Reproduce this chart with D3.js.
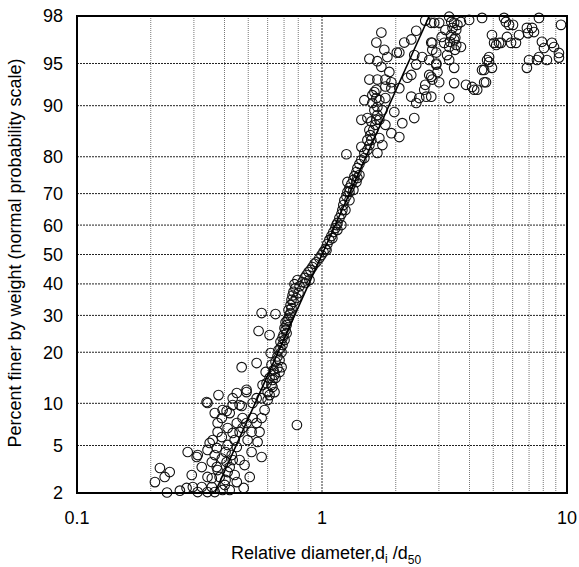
<!DOCTYPE html>
<html><head><meta charset="utf-8">
<script src="https://cdn.jsdelivr.net/npm/d3@7"></script>
<style>body{margin:0;background:#fff;} svg{display:block;font-family:"Liberation Sans",Arial,sans-serif;}</style>
</head><body>
<svg id="chart" width="579" height="567"></svg>
<script>
const diameters = [0.283,0.308,0.218,0.239,0.208,0.228,0.294,0.233,0.263,0.28,0.297,0.341,0.449,0.492,0.541,0.365,0.393,0.432,0.461,0.42,0.375,0.449,0.492,0.541,0.556,0.375,0.432,0.546,0.461,0.348,0.311,0.341,0.372,0.412,0.449,0.567,0.323,0.355,0.372,0.42,0.432,0.341,0.382,0.449,0.323,0.355,0.401,0.365,0.393,0.47,0.408,0.338,0.358,0.39,0.404,0.39,0.408,0.365,0.428,0.461,0.412,0.375,0.44,0.404,0.355,0.42,0.479,0.341,0.311,0.507,0.483,0.516,0.497,0.44,0.474,0.516,0.521,0.567,0.583,0.474,0.412,0.39,0.567,0.432,0.378,0.79,
0.567,0.646,0.551,0.611,0.617,0.47,0.541,0.622,0.628,0.646,0.492,0.628,0.521,0.6,0.6,0.622,0.64,0.658,0.671,0.684,0.69,0.703,0.697,0.71,0.717,0.723,0.737,0.73,0.744,0.751,0.758,0.765,0.779,0.772,0.794,0.69,0.71,0.73,0.744,0.703,0.677,0.658,0.646,0.634,0.611,0.594,0.664,0.751,0.765,0.786,0.802,0.81,0.833,0.677,0.717,0.684,0.671,0.589,0.572,0.64,0.611,
0.848,0.864,0.881,0.897,0.914,0.889,0.856,0.932,0.949,0.976,0.995,1.014,1.033,1.052,1.072,1.092,1.113,1.134,1.156,1.178,1.2,1.211,1.222,1.234,1.258,1.27,1.294,1.318,1.343,1.356,1.382,1.395,1.421,1.448,1.043,1.102,1.156,1.2,1.145,1.246,1.294,1.343,1.382,1.421,1.258,1.27,1.395,1.294,1.489,
1.489,1.532,1.561,1.59,1.532,1.575,1.62,1.652,1.59,1.667,1.683,1.636,1.605,1.683,1.667,1.636,1.667,1.532,1.448,1.561,1.714,1.814,1.919,2.068,2.127,2.38,2.425,1.683,1.764,1.714,1.814,1.814,1.919,2.068,1.683,1.814,1.919,2.23,2.314,2.314,2.494,2.664,2.639,2.614,2.739,2.82,1.561,1.683,1.747,1.883,1.747,1.667,1.796,1.848,2.02,2.167,2.314,2.425,2.639,2.871,2.068,2.38,2.563,2.792,2.82,2.425,2.927,2.739,1.973,1.714,1.764,1.605,1.561,1.489,1.448,
2.792,3.008,3.37,3.463,3.304,3.53,3.37,3.463,3.53,3.304,3.69,3.986,4.5,5.534,5.8,4.94,5.14,5.281,5.69,5.91,6.19,6.37,6.86,6.93,7.333,7.9,8.68,8.054,7.685,7.54,9.27,9.45,4.808,4.808,4.588,4.94,6.86,4.1,4.3,4.67,3.463,3.304,3.008,2.792,2.792,2.927,3.24,3.304,3.463,3.69,3.153,2.82,2.927,2.96,7.2,6.02,5.63,7.685,5.04,5.38,4.5,4.72,3.87,4.18,4.59,8.28,8.85,7.0,9.27,3.41,3.5,3.33,3.49,3.57,3.19,3.08];
const percents = [4.45,4.06,3.3,3.05,2.5,2.77,2.88,2.02,2.1,2.22,2.26,10.05,11.65,11.8,10.8,8.6,9.03,9.74,9.74,8.6,7.34,7.34,7.34,7.34,6.33,6.33,6.22,5.32,6.33,5.23,4.21,4.62,4.79,5.05,4.87,4.06,3.36,3.7,3.36,3.36,3.84,2.77,2.77,2.5,2.26,2.26,2.36,2.04,2.13,9.6,8.9,10.2,5.51,5.8,4.45,3.95,3.7,4.21,4.21,3.84,3.05,3.17,2.88,2.61,2.7,2.13,2.22,2.04,2.04,2.77,3.49,4.45,5.51,5.51,6.76,6.33,7.96,7.96,9.03,7.96,6.76,7.96,10.8,10.8,11.3,7.1,
30.7,30.4,25.5,24.4,19.8,16.6,17.5,17.1,14.0,14.4,12.2,12.7,10.05,10.5,11.8,13.05,15.0,16.4,18.2,20.0,21.8,23.1,24.4,25.8,27.2,28.6,30.1,31.6,33.2,34.8,36.2,37.4,38.6,39.9,41.3,23.6,28.0,29.2,30.7,26.3,22.6,19.0,17.8,16.0,14.4,13.4,20.5,32.2,34.2,35.4,37.0,39.2,40.6,21.0,24.9,16.6,15.6,15.6,13.05,11.8,11.3,
42.0,43.0,44.0,44.7,45.7,41.3,40.3,46.8,47.4,48.8,49.8,50.9,51.9,53.6,55.0,56.3,57.7,59.0,60.7,62.3,63.6,64.9,66.5,68.0,69.2,70.5,71.7,72.8,73.95,75.0,76.1,77.2,78.2,79.2,51.5,55.6,58.4,60.0,60.0,64.9,68.0,71.1,73.4,75.3,80.6,73.4,74.5,70.5,79.7,
80.9,81.6,82.7,83.8,83.8,84.8,85.8,86.8,87.4,87.7,88.5,89.3,90.4,89.8,91.1,91.9,92.2,88.0,82.3,85.8,84.2,86.8,85.2,84.4,87.1,88.0,90.4,80.9,82.7,90.8,91.1,92.6,92.4,92.4,93.4,93.4,93.1,93.6,93.9,91.3,91.1,91.3,92.8,92.2,93.9,93.4,95.4,95.2,94.7,94.2,97.2,96.6,96.1,95.55,95.9,96.6,96.8,97.3,97.8,97.7,95.9,95.7,95.55,96.6,96.1,94.9,94.9,95.3,89.0,87.7,89.3,91.5,93.4,90.8,87.7,
97.7,97.7,97.74,97.7,97.97,97.34,97.06,96.8,96.44,96.3,97.74,97.83,97.92,97.92,97.6,97.06,96.44,96.58,96.95,96.58,96.58,97.06,97.45,97.17,97.23,96.65,96.58,96.23,95.55,95.3,95.87,97.6,95.55,95.13,94.4,94.6,94.6,92.55,92.2,93.1,93.0,91.1,93.1,93.7,91.3,95.9,95.7,95.3,94.6,96.3,96.58,96.58,95.0,94.2,97.45,97.6,97.74,97.92,96.58,96.58,94.4,95.3,92.8,92.2,93.1,95.3,96.3,95.3,95.5,97.45,96.9,96.65,96.1,97.6,97.34,96.95];
const fitDiameters = [0.365, 2.74];
const fitPercents = [2, 98];
const yTicks = [2,5,10,20,30,40,50,60,70,80,90,95,98];
const xTicks = [0.1,1,10];
const xMinor = [0.2,0.3,0.4,0.5,0.6,0.7,0.8,0.9,2,3,4,5,6,7,8,9];

const svg = d3.select("#chart");
const L = 77, R = 567, T = 16, B = 493;
const x = d3.scaleLog().domain([0.1,10]).range([L,R]);
function inv(p){ // inverse standard normal CDF (Acklam)
  const a=[-3.969683028665376e+01,2.209460984245205e+02,-2.759285104469687e+02,1.383577518672690e+02,-3.066479806614716e+01,2.506628277459239e+00];
  const b=[-5.447609879822406e+01,1.615858368580409e+02,-1.556989798598866e+02,6.680131188771972e+01,-1.328068155288572e+01];
  const c=[-7.784894002430293e-03,-3.223964580411365e-01,-2.400758277161838e+00,-2.549732539343734e+00,4.374664141464968e+00,2.938163982698783e+00];
  const d=[7.784695709041462e-03,3.224671290700398e-01,2.445134137142996e+00,3.754408661907416e+00];
  const pl=0.02425, ph=1-pl; let q,r;
  if(p<pl){q=Math.sqrt(-2*Math.log(p));return (((((c[0]*q+c[1])*q+c[2])*q+c[3])*q+c[4])*q+c[5])/((((d[0]*q+d[1])*q+d[2])*q+d[3])*q+1);}
  if(p>ph){q=Math.sqrt(-2*Math.log(1-p));return -(((((c[0]*q+c[1])*q+c[2])*q+c[3])*q+c[4])*q+c[5])/((((d[0]*q+d[1])*q+d[2])*q+d[3])*q+1);}
  q=p-0.5;r=q*q;return (((((a[0]*r+a[1])*r+a[2])*r+a[3])*r+a[4])*r+a[5])*q/(((((b[0]*r+b[1])*r+b[2])*r+b[3])*r+b[4])*r+1);
}
const zLin = d3.scaleLinear().domain([inv(0.02), inv(0.98)]).range([B,T]);
const y = p => zLin(inv(p/100));

// grid
const g = svg.append("g");
g.selectAll(".vminor").data(xMinor).join("line")
  .attr("x1",d=>x(d)).attr("x2",d=>x(d)).attr("y1",T).attr("y2",B)
  .attr("stroke","#777").attr("stroke-width",1).attr("stroke-dasharray","1,1");
g.selectAll(".vmaj").data([1]).join("line")
  .attr("x1",d=>x(d)).attr("x2",d=>x(d)).attr("y1",T).attr("y2",B)
  .attr("stroke","#333").attr("stroke-width",1).attr("stroke-dasharray","2,1");
g.selectAll(".hgrid").data(yTicks.slice(1,-1)).join("line")
  .attr("x1",L).attr("x2",R).attr("y1",d=>y(d)).attr("y2",d=>y(d))
  .attr("stroke","#222").attr("stroke-width",1).attr("stroke-dasharray","2,1");

// points
svg.append("g").selectAll("circle").data(diameters.map((d,i)=>[d,percents[i]])).join("circle")
  .attr("cx",d=>x(d[0])).attr("cy",d=>y(d[1])).attr("r",4.8)
  .attr("fill","none").attr("stroke","#111").attr("stroke-width",1.1);

// fit line
svg.append("line")
  .attr("x1",x(fitDiameters[0])).attr("y1",y(fitPercents[0]))
  .attr("x2",x(fitDiameters[1])).attr("y2",y(fitPercents[1]))
  .attr("stroke","#000").attr("stroke-width",1.6);

// frame
svg.append("rect").attr("x",L).attr("y",T).attr("width",R-L).attr("height",B-T)
  .attr("fill","none").attr("stroke","#000").attr("stroke-width",2);

// y tick labels
svg.append("g").selectAll("text").data(yTicks).join("text")
  .attr("x",63).attr("y",d=>y(d)).attr("dy","0.36em").attr("text-anchor","end")
  .attr("font-size",18).text(d=>d);
// x tick labels
svg.append("g").selectAll("text").data(xTicks).join("text")
  .attr("x",d=>x(d)).attr("y",524).attr("text-anchor","middle")
  .attr("font-size",18).text(d=>d3.format("")(d));

// axis titles
svg.append("text").attr("transform","translate(21,253) rotate(-90)")
  .attr("text-anchor","middle").attr("font-size",18)
  .text("Percent finer by weight (normal probability scale)");
const xt = svg.append("text").attr("x",326).attr("y",559).attr("text-anchor","middle").attr("font-size",18);
xt.append("tspan").text("Relative diameter,d");
xt.append("tspan").attr("dy",4).attr("font-size",12).text("i");
xt.append("tspan").attr("dy",-4).text(" /d");
xt.append("tspan").attr("dy",5).attr("font-size",12).text("50");
</script>
</body></html>
